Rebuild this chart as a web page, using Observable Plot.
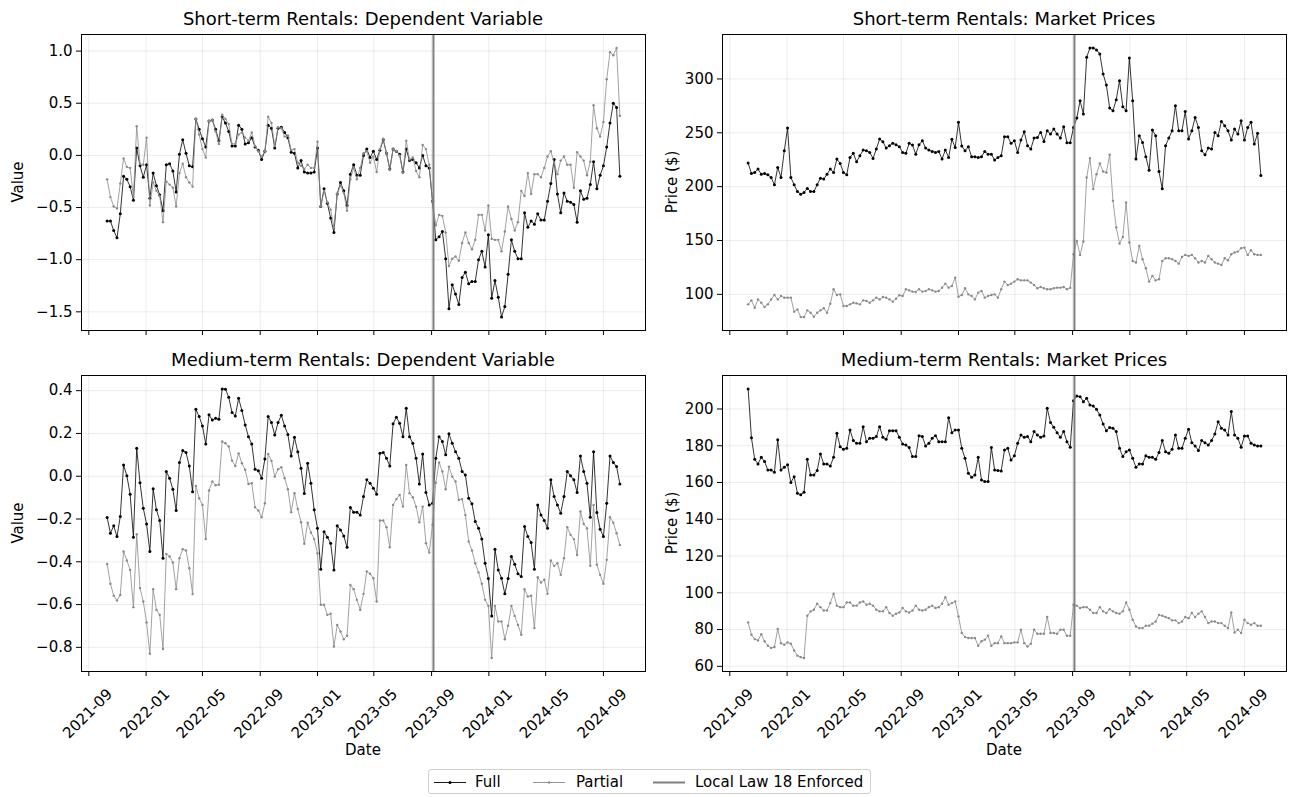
<!DOCTYPE html>
<html><head><meta charset="utf-8">
<script src="https://cdn.jsdelivr.net/npm/d3@7"></script>
<script src="https://cdn.jsdelivr.net/npm/@observablehq/plot@0.6"></script>
<style>
body{margin:0;background:#fff;font-family:"DejaVu Sans",sans-serif;color:#000;}
#root{position:relative;width:1295px;height:797px;overflow:hidden;}
.panel{position:absolute;}
.title{position:absolute;font-size:18px;line-height:18px;white-space:nowrap;transform:translateX(-50%);}
.ylab{position:absolute;font-size:15px;line-height:15px;white-space:nowrap;transform:translate(-50%,-50%) rotate(-90deg);}
.xlab{position:absolute;font-size:15px;line-height:15px;white-space:nowrap;transform:translate(-50%,-50%);}
#legend{position:absolute;left:428px;top:769px;width:443px;height:25px;border:1px solid #d0d0d0;border-radius:3px;box-sizing:border-box;font-size:15px;}
#legend .it{position:absolute;top:0;height:25px;line-height:25px;white-space:nowrap;}
#legend svg{position:absolute;top:0;}
</style></head><body><div id="root"></div>
<script>
// ---- data (weekly, starting 2021-10-10) ----
const startDate = "2021-10-10";
const nWeeks = 157;
const lawDate = "2023-09-05";
const xTickLabels = ["2021-09","2022-01","2022-05","2022-09","2023-01","2023-05","2023-09","2024-01","2024-05","2024-09"];

const titles = ["Short-term Rentals: Dependent Variable","Short-term Rentals: Market Prices","Medium-term Rentals: Dependent Variable","Medium-term Rentals: Market Prices"];
const seriesNames = ["Full","Partial","Local Law 18 Enforced"];

const stDepTicks = [-1.5,-1.0,-0.5,0.0,0.5,1.0];
const stPriceTicks = [100,150,200,250,300];
const mtDepTicks = [-0.8,-0.6,-0.4,-0.2,0.0,0.2,0.4];
const mtPriceTicks = [60,80,100,120,140,160,180,200];

const stDepFull = [-0.63,-0.63,-0.72,-0.79,-0.56,-0.20,-0.23,-0.30,-0.43,0.07,
-0.10,-0.21,-0.09,-0.41,-0.17,-0.29,-0.38,-0.53,-0.09,-0.08,
-0.15,-0.35,0.01,0.15,0.02,-0.10,-0.11,0.35,0.25,0.16,
0.08,0.33,0.34,0.25,0.14,0.37,0.31,0.23,0.09,0.09,
0.29,0.25,0.11,0.12,0.17,0.08,0.05,-0.04,0.04,0.29,
0.26,0.07,0.26,0.27,0.22,0.17,0.03,0.02,-0.12,-0.05,
-0.16,-0.17,-0.17,-0.16,0.07,-0.49,-0.32,-0.46,-0.60,-0.74,
-0.37,-0.26,-0.34,-0.48,-0.18,-0.09,-0.19,-0.19,
0.00,0.06,-0.02,0.04,-0.04,0.05,0.15,0.02,-0.13,0.06,
0.04,0.01,-0.16,0.06,-0.05,-0.04,-0.07,-0.12,0.00,-0.10,
-0.12,-0.44,-0.81,-0.78,-0.73,-0.99,-1.47,-1.24,-1.33,-1.43,
-1.17,-1.12,-1.23,-1.21,-1.21,-1.00,-0.92,-1.07,-0.76,-1.37,
-1.20,-1.36,-1.55,-1.45,-1.14,-0.81,-0.92,-0.99,-0.99,-0.55,
-0.69,-0.63,-0.66,-0.56,-0.62,-0.62,-0.44,-0.27,-0.04,-0.37,
-0.55,-0.36,-0.44,-0.45,-0.47,-0.64,-0.34,-0.42,-0.41,-0.28,
-0.06,-0.32,-0.19,-0.10,0.08,0.31,0.50,0.46,-0.20];

const stDepPartial = [-0.23,-0.40,-0.49,-0.51,-0.27,-0.03,-0.11,-0.12,-0.40,0.28,
-0.08,-0.09,0.17,-0.48,-0.26,-0.34,-0.39,-0.64,-0.25,-0.28,
-0.31,-0.49,-0.17,-0.08,-0.21,-0.26,-0.30,0.35,0.20,0.06,
-0.02,0.33,0.34,0.23,0.11,0.39,0.35,0.30,0.11,0.11,
0.20,0.22,0.17,0.14,0.22,0.09,0.04,-0.01,0.04,0.37,
0.31,0.09,0.27,0.26,0.18,0.19,0.05,0.06,-0.07,-0.10,
-0.13,-0.09,-0.12,-0.12,0.13,-0.49,-0.34,-0.45,-0.52,-0.69,
-0.37,-0.29,-0.36,-0.53,-0.23,-0.12,-0.23,-0.12,
0.02,0.04,-0.07,-0.01,-0.16,0.06,0.16,0.02,-0.14,0.06,
0.04,0.00,-0.17,0.14,-0.04,-0.02,-0.15,-0.21,0.10,0.06,
-0.09,-0.44,-0.67,-0.57,-0.58,-0.74,-1.06,-0.99,-0.97,-1.01,
-0.84,-0.74,-0.84,-0.90,-0.81,-0.57,-0.57,-0.72,-0.48,-0.80,
-0.81,-0.81,-0.92,-0.73,-0.49,-0.61,-0.72,-0.64,-0.34,-0.39,
-0.17,-0.37,-0.18,-0.18,-0.21,-0.12,-0.01,0.04,-0.07,-0.18,
-0.05,-0.01,-0.09,-0.09,-0.31,0.03,-0.01,-0.05,-0.19,-0.06,
0.48,0.26,0.18,0.32,0.73,0.99,0.96,1.03,0.38];

const stPriceFull = [221.9,212.2,213.2,216.3,211.6,212.2,211.0,208.5,201.7,217.8,
208.5,233.3,254.4,208.5,201.7,195.5,193.0,194.6,198.3,195.5,
195.5,201.7,207.9,207.0,211.6,216.3,213.2,225.6,221.6,213.2,
211.0,227.1,230.9,223.1,228.7,234.0,233.3,231.8,226.2,234.9,
244.2,241.7,235.8,238.0,240.2,238.9,237.1,231.8,230.9,240.2,
238.6,230.2,238.9,242.6,235.8,234.0,232.7,231.8,232.7,225.6,
234.0,227.1,243.9,236.4,259.7,237.7,233.3,237.1,227.8,227.8,
227.1,227.8,232.7,230.2,230.2,224.7,227.1,228.7,246.4,
246.4,240.2,242.6,231.8,243.3,251.0,238.0,234.9,245.1,245.7,
250.4,242.0,251.9,248.8,253.5,248.8,245.1,255.7,240.8,240.8,
255.0,263.7,279.8,267.4,320.2,328.8,328.8,327.0,323.3,304.7,
294.4,273.0,270.5,280.8,298.4,274.3,270.5,319.5,279.8,225.6,
247.3,241.1,227.8,215.3,252.6,247.3,214.1,198.0,238.0,245.1,
251.9,275.2,251.9,251.9,269.9,244.2,251.9,264.3,255.0,233.3,
229.6,235.8,234.9,250.4,247.3,260.6,256.6,251.9,243.3,253.5,
248.8,261.2,243.3,255.0,259.7,239.5,249.5,210.4];

const stPricePartial = [90.7,94.4,87.6,95.3,92.2,88.2,90.7,95.3,99.4,95.3,
98.4,96.9,96.9,96.9,83.9,86.0,78.9,78.9,85.1,82.9,
79.2,82.9,85.1,87.0,82.9,91.3,104.7,99.4,100.0,89.1,
89.1,90.7,92.2,91.6,90.7,94.4,93.8,92.2,94.4,96.9,
95.3,97.5,96.9,95.3,93.2,96.0,99.1,98.4,104.7,103.7,
102.5,102.2,104.7,102.5,103.1,104.7,103.7,102.5,103.1,106.2,
109.9,106.2,107.8,115.5,97.8,99.4,105.6,100.0,98.4,95.3,
101.6,103.1,96.9,98.4,99.4,100.0,96.9,104.7,
111.8,108.7,109.9,111.8,114.0,113.0,113.0,113.0,110.9,108.7,
105.6,106.8,105.6,104.7,104.7,105.6,106.2,106.2,106.8,104.7,
106.0,137.2,149.6,136.6,149.0,208.5,226.5,197.7,211.6,221.6,
214.1,213.2,229.6,186.8,162.0,147.1,153.3,185.3,148.1,131.0,
129.5,145.0,132.6,124.2,111.8,117.1,113.0,114.0,131.0,133.5,
133.5,132.6,131.0,128.5,134.7,136.6,135.7,136.6,133.5,129.5,
131.0,129.5,135.7,132.6,129.5,128.5,127.3,133.5,131.6,137.2,
138.8,139.7,142.8,143.4,136.6,140.9,137.2,136.6,136.6];

const mtDepFull = [-0.193,-0.266,-0.232,-0.282,-0.188,0.053,0.002,-0.084,-0.285,0.131,
-0.030,-0.150,-0.223,-0.352,-0.059,-0.157,-0.207,-0.383,0.022,-0.009,
-0.061,-0.160,0.064,0.120,0.111,0.048,-0.072,0.313,0.279,0.235,
0.151,0.287,0.263,0.271,0.266,0.408,0.407,0.369,0.298,0.282,
0.364,0.307,0.240,0.185,0.151,0.033,0.026,-0.009,0.081,0.279,
0.251,0.193,0.251,0.285,0.235,0.195,0.095,0.182,0.114,0.037,
-0.081,0.061,-0.033,-0.157,-0.243,-0.435,-0.259,-0.285,-0.313,-0.438,
-0.232,-0.251,-0.279,-0.332,-0.146,-0.168,-0.168,-0.181,
-0.095,-0.017,-0.033,-0.056,-0.084,0.107,0.111,0.084,0.048,0.245,
0.276,0.248,0.185,0.318,0.185,0.154,0.084,-0.036,0.104,-0.076,
-0.134,-0.126,0.084,0.185,0.162,0.100,0.198,0.154,0.115,0.084,
0.022,0.006,-0.103,-0.129,-0.212,-0.243,-0.294,-0.407,-0.478,-0.653,
-0.341,-0.438,-0.477,-0.550,-0.478,-0.375,-0.411,-0.456,-0.469,-0.235,
-0.282,-0.310,-0.435,-0.134,-0.181,-0.207,-0.243,-0.017,-0.095,-0.134,
-0.173,-0.095,0.022,0.002,-0.017,-0.076,0.095,0.022,-0.033,-0.192,
0.115,-0.170,-0.248,-0.282,-0.126,0.095,0.064,0.045,-0.036];

const mtDepPartial = [-0.410,-0.503,-0.559,-0.581,-0.555,-0.352,-0.394,-0.438,-0.612,-0.271,
-0.523,-0.586,-0.684,-0.830,-0.528,-0.625,-0.648,-0.808,-0.363,-0.375,
-0.403,-0.528,-0.383,-0.341,-0.347,-0.430,-0.551,-0.045,-0.103,-0.134,
-0.294,-0.067,-0.025,-0.042,-0.040,0.162,0.154,0.139,0.073,0.048,
0.107,0.061,0.030,-0.036,-0.033,-0.145,-0.160,-0.192,-0.126,0.104,
0.072,-0.002,0.033,0.042,-0.009,-0.061,-0.168,-0.079,-0.153,-0.215,
-0.316,-0.217,-0.263,-0.294,-0.360,-0.601,-0.601,-0.648,-0.643,-0.796,
-0.695,-0.726,-0.762,-0.746,-0.508,-0.528,-0.578,-0.625,
-0.550,-0.445,-0.456,-0.477,-0.586,-0.207,-0.207,-0.238,-0.332,-0.134,
-0.107,-0.087,-0.142,0.053,-0.079,-0.098,-0.142,-0.215,-0.142,-0.313,
-0.357,-0.227,-0.030,0.064,0.022,-0.061,0.045,-0.002,-0.025,-0.111,
-0.107,-0.181,-0.305,-0.347,-0.407,-0.450,-0.503,-0.578,-0.606,-0.850,
-0.606,-0.679,-0.679,-0.762,-0.699,-0.606,-0.653,-0.695,-0.741,-0.528,
-0.562,-0.559,-0.710,-0.472,-0.497,-0.484,-0.550,-0.394,-0.419,-0.407,
-0.461,-0.383,-0.238,-0.274,-0.294,-0.368,-0.165,-0.223,-0.243,-0.419,
-0.134,-0.414,-0.461,-0.503,-0.391,-0.192,-0.217,-0.266,-0.321];

const mtPriceFull = [210.9,184.4,172.6,170.1,173.7,171.4,166.8,166.8,165.6,183.2,
166.8,168.3,169.6,160.0,163.2,154.2,153.3,154.7,172.6,164.1,
164.1,166.5,175.5,170.1,170.1,169.0,173.7,186.8,179.5,178.1,
178.6,188.6,182.8,181.3,181.3,190.4,182.2,184.1,184.1,185.0,
190.4,184.6,183.5,188.2,188.2,188.2,184.6,181.0,180.4,179.0,
174.1,174.1,185.5,185.0,179.9,181.3,184.1,185.5,182.2,182.2,
182.2,195.3,187.1,188.6,188.6,178.6,173.2,165.0,162.9,164.1,
173.7,161.4,160.5,160.5,179.0,166.8,166.5,166.3,177.7,
178.6,172.3,174.5,181.3,185.9,184.6,185.0,182.2,187.7,185.9,
184.6,185.3,200.4,192.6,190.0,187.1,184.6,187.7,182.2,179.2,
204.5,207.1,206.7,204.0,205.8,202.2,201.6,199.8,196.7,191.8,
188.2,189.9,189.5,187.7,178.6,174.1,176.8,177.7,173.2,168.3,
170.1,170.1,174.5,173.7,173.7,172.6,176.3,182.8,176.8,175.9,
178.1,185.9,178.6,178.6,184.1,189.0,181.7,179.9,177.4,182.8,
181.7,180.4,182.8,186.4,193.1,189.5,188.6,185.9,198.6,185.9,
184.1,179.2,185.3,185.3,181.3,180.4,179.9,179.9];

const mtPricePartial = [83.9,77.2,74.8,74.1,77.5,73.6,71.2,70.0,70.5,80.3,
72.6,71.7,73.0,72.3,68.6,65.8,65.0,64.5,87.5,89.9,
90.8,94.0,92.2,90.4,90.4,94.4,99.5,93.0,92.2,92.2,
94.7,94.7,93.0,93.0,94.7,95.3,93.5,94.0,93.0,90.8,
89.9,89.9,92.2,89.0,87.5,88.6,89.3,91.7,89.9,89.3,
90.4,93.0,90.8,90.4,90.8,92.2,93.0,91.7,92.2,94.0,
97.6,93.5,94.4,95.3,87.1,78.1,75.9,75.4,75.4,75.4,
71.2,73.6,74.5,76.6,71.2,72.6,72.6,76.3,
72.6,72.6,72.6,73.0,73.0,79.9,72.6,70.8,72.3,79.9,
77.7,77.7,77.7,86.8,78.1,78.1,77.7,79.9,79.9,76.6,
76.6,93.5,93.0,91.7,92.2,92.2,90.8,89.0,89.0,92.2,
89.9,89.0,91.1,89.9,89.0,88.6,89.9,94.7,90.8,85.3,
81.7,80.8,80.8,82.1,82.1,83.2,84.4,88.0,87.5,86.8,
86.2,85.0,85.0,83.5,84.4,86.8,86.2,89.0,86.8,88.6,
89.9,86.8,83.5,84.4,84.4,83.5,83.5,82.1,80.8,89.3,
78.4,79.9,78.1,85.3,83.5,82.6,83.5,82.1,82.1];

// ---- build ----
const parse = d3.utcParse("%Y-%m-%d");
const start = parse(startDate);
const dates = d3.range(nWeeks).map(i => d3.utcDay.offset(start, 7 * i));
const law = parse(lawDate);
const xTicks = xTickLabels.map(s => d3.utcParse("%Y-%m")(s));
const span = dates[nWeeks - 1] - dates[0];
const xDomain = [new Date(+dates[0] - span * 0.05), new Date(+dates[nWeeks - 1] + span * 0.05)];

const FULL_C = "#000000", PART_C = "#8a8a8a", LAW_C = "#7f7f7f", GRID_C = "#b0b0b0";

const root = document.getElementById("root");

function addDiv(cls, text, style) {
  const d = document.createElement("div");
  d.className = cls; d.textContent = text;
  Object.assign(d.style, style);
  root.appendChild(d);
  return d;
}

function panel(cfg) {
  const F = dates.map((d, i) => ({date: d, v: cfg.full[i]}));
  const P = dates.map((d, i) => ({date: d, v: cfg.partial[i]}));
  const [lo, hi] = d3.extent(cfg.full.concat(cfg.partial));
  const pad = (hi - lo) * 0.05;
  const marks = [
    Plot.gridX(xTicks, {stroke: GRID_C, strokeOpacity: 0.3, strokeWidth: 0.8}),
    Plot.gridY(cfg.ticks, {stroke: GRID_C, strokeOpacity: 0.3, strokeWidth: 0.8}),
    Plot.line(F, {x: "date", y: "v", stroke: FULL_C, strokeWidth: 0.8}),
    Plot.dot(F, {x: "date", y: "v", r: 1.5, fill: FULL_C, stroke: null}),
    Plot.line(P, {x: "date", y: "v", stroke: PART_C, strokeWidth: 0.8}),
    Plot.dot(P, {x: "date", y: "v", r: 1.2, fill: PART_C, stroke: null}),
    Plot.ruleX([law], {stroke: LAW_C, strokeWidth: 2}),
    Plot.frame({stroke: "#000", strokeWidth: 1}),
    Plot.axisY(cfg.ticks, {tickSize: 5, tickPadding: 4, tickFormat: cfg.fmt, label: null}),
    Plot.axisX(xTicks, {tickSize: 5, tickFormat: () => "", label: null})
  ];
  if (cfg.showX) {
    marks.push(Plot.text(xTicks, {x: d => d, text: (d, i) => xTickLabels[i], frameAnchor: "bottom",
      dx: 21, dy: 20, rotate: -45, textAnchor: "end", lineAnchor: "middle"}));
  }
  const svg = Plot.plot({
    width: cfg.width, height: cfg.height,
    marginLeft: cfg.mL, marginRight: cfg.mR, marginTop: cfg.mT, marginBottom: cfg.mB,
    x: {type: "utc", domain: xDomain},
    y: {domain: [lo - pad, hi + pad]},
    style: {fontFamily: "DejaVu Sans, sans-serif", fontSize: "15px", background: "white", color: "#000", overflow: "visible"},
    marks
  });
  svg.classList.add("panel");
  svg.style.left = cfg.left + "px";
  svg.style.top = cfg.top + "px";
  root.appendChild(svg);
  const fx0 = cfg.left + cfg.mL, fx1 = cfg.left + cfg.width - cfg.mR;
  const fy0 = cfg.top + cfg.mT, fy1 = cfg.top + cfg.height - cfg.mB;
  addDiv("title", cfg.title, {left: ((fx0 + fx1) / 2) + "px", top: (fy0 - 24) + "px"});
  addDiv("ylab", cfg.ylabel, {left: cfg.ylabX + "px", top: ((fy0 + fy1) / 2) + "px"});
  if (cfg.showX) addDiv("xlab", "Date", {left: ((fx0 + fx1) / 2) + "px", top: "750px"});
}

const dfmt1 = d3.format(".1f"), dfmt0 = d3.format("d");
const common = {mT: 10};
panel({...common, title: titles[0], full: stDepFull, partial: stDepPartial, ticks: stDepTicks, fmt: dfmt1,
  left: 0, top: 24, width: 655, height: 326, mL: 81, mR: 10, mB: 20, showX: false, ylabel: "Value", ylabX: 18});
panel({...common, title: titles[1], full: stPriceFull, partial: stPricePartial, ticks: stPriceTicks, fmt: dfmt0,
  left: 660, top: 24, width: 635, height: 326, mL: 62, mR: 9, mB: 20, showX: false, ylabel: "Price ($)", ylabX: 672});
panel({...common, title: titles[2], full: mtDepFull, partial: mtDepPartial, ticks: mtDepTicks, fmt: dfmt1,
  left: 0, top: 365, width: 655, height: 396, mL: 81, mR: 10, mB: 90, showX: true, ylabel: "Value", ylabX: 18});
panel({...common, title: titles[3], full: mtPriceFull, partial: mtPricePartial, ticks: mtPriceTicks, fmt: dfmt0,
  left: 660, top: 365, width: 635, height: 396, mL: 62, mR: 9, mB: 90, showX: true, ylabel: "Price ($)", ylabX: 672});

// ---- legend ----
const legend = document.createElement("div");
legend.id = "legend";
root.appendChild(legend);
const legItems = [
  {name: seriesNames[0], color: FULL_C, w: 0.9, r: 1.5, lx: 4, tx: 46},
  {name: seriesNames[1], color: PART_C, w: 0.9, r: 1.2, lx: 103, tx: 147},
  {name: seriesNames[2], color: LAW_C, w: 2, r: 0, lx: 223, tx: 266}
];
legItems.forEach(it => {
  const s = d3.create("svg").attr("width", 34).attr("height", 25).style("left", it.lx + "px");
  s.append("line").attr("x1", 1).attr("x2", 33).attr("y1", 12.5).attr("y2", 12.5)
    .attr("stroke", it.color).attr("stroke-width", it.w);
  if (it.r) s.append("circle").attr("cx", 17).attr("cy", 12.5).attr("r", it.r).attr("fill", it.color);
  legend.appendChild(s.node());
  const t = document.createElement("div");
  t.className = "it"; t.textContent = it.name; t.style.left = it.tx + "px";
  legend.appendChild(t);
});
</script></body></html>
